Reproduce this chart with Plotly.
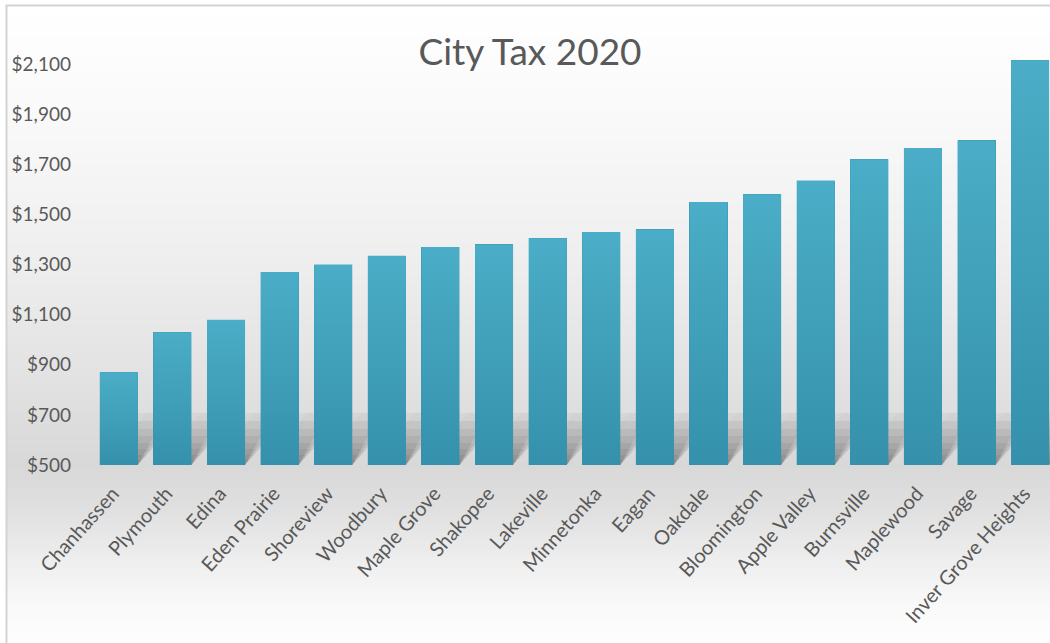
import plotly.graph_objects as go

# ---- data -------------------------------------------------------------
cities = [
    "Chanhassen", "Plymouth", "Edina", "Eden Prairie", "Shoreview",
    "Woodbury", "Maple Grove", "Shakopee", "Lakeville", "Minnetonka",
    "Eagan", "Oakdale", "Bloomington", "Apple Valley", "Burnsville",
    "Maplewood", "Savage", "Inver Grove Heights",
]
city_tax = [870, 1030, 1080, 1270, 1300, 1335, 1370, 1380, 1405, 1430,
            1440, 1550, 1580, 1635, 1720, 1765, 1795, 2115]
y_ticks = [500, 700, 900, 1100, 1300, 1500, 1700, 1900, 2100]
y_tick_labels = [f"${v:,}" for v in y_ticks]
title_text = "City Tax 2020"

# ---- layout constants -------------------------------------------------
W, H = 1050, 643
ML, MR, MT, MB = 92, 0, 39, 178
PW, PH = W - ML - MR, H - MT - MB
Y_MIN, Y_MAX = 500, 2200
X_MIN, X_MAX = -0.5, 17.37
BAR_W = 0.71
HW = BAR_W / 2
TEXT = "#595959"
FONT = "Lato"

px_per_unit = PH / (Y_MAX - Y_MIN)
px_per_cat = PW / (X_MAX - X_MIN)


def px_to_paper_x(px):
    return (px - ML) / PW


def px_to_paper_y(py):
    return (H - MB - py) / PH


# background: white at the top, grey band under the bars, white again below
bg_stops = [(6, 255), (120, 249), (250, 239), (380, 226), (465, 216),
            (510, 224), (560, 238), (610, 250), (643, 254)]


def grey_at(py):
    for (a, ga), (b, gb) in zip(bg_stops, bg_stops[1:]):
        if a <= py <= b:
            t = (py - a) / (b - a)
            return round(ga + (gb - ga) * t)
    return 255


shapes = []
step = 3
py = 6
while py < H:
    g = grey_at(py + step / 2)
    shapes.append(dict(
        type="rect", xref="paper", yref="paper", layer="below",
        x0=px_to_paper_x(7), x1=px_to_paper_x(W + 2),
        y0=px_to_paper_y(py + step + 0.5), y1=px_to_paper_y(py),
        fillcolor=f"rgb({g},{g},{g})", line=dict(width=0),
    ))
    py += step

# outer frame (left and top edges)
shapes.append(dict(type="line", xref="paper", yref="paper", layer="below",
                   x0=px_to_paper_x(6.5), x1=px_to_paper_x(6.5),
                   y0=px_to_paper_y(5), y1=px_to_paper_y(H + 2),
                   line=dict(color="#d3d3d3", width=2)))
shapes.append(dict(type="line", xref="paper", yref="paper", layer="below",
                   x0=px_to_paper_x(5.5), x1=px_to_paper_x(W + 2),
                   y0=px_to_paper_y(5.5), y1=px_to_paper_y(5.5),
                   line=dict(color="#d3d3d3", width=2)))

# soft perspective shadows: skewed copies of each bar foot leaning to the
# upper right, built from many faint layers so they fade upward and blur
shadow_heights_px = [5, 10, 16, 22, 29, 36, 44, 52]
shadow_slopes = [0.55, 0.72, 0.9]
for i in range(len(cities)):
    for h_px in shadow_heights_px:
        h = h_px / px_per_unit
        for s in shadow_slopes:
            dx = s * h_px / px_per_cat
            x0, x1 = i - HW, i + HW
            path = (f"M {x0},{Y_MIN} L {x1},{Y_MIN} "
                    f"L {x1 + dx},{Y_MIN + h} L {x0 + dx},{Y_MIN + h} Z")
            shapes.append(dict(type="path", xref="x", yref="y",
                               layer="below", path=path,
                               fillcolor="rgba(0,0,0,0.014)",
                               line=dict(width=0)))

fig = go.Figure()

idx = list(range(len(cities)))
fig.add_trace(go.Bar(
    x=idx, y=city_tax, width=BAR_W,
    marker=dict(color="#3793ad", line=dict(width=0)),
    hovertext=cities, hoverinfo="text+y", showlegend=False,
))

# gradient face of each bar (lighter at the top, deeper at the foot)
for i, v in zip(idx, city_tax):
    fig.add_trace(go.Scatter(
        x=[i - HW, i + HW, i + HW, i - HW, i - HW],
        y=[Y_MIN, Y_MIN, v, v, Y_MIN],
        mode="none", fill="toself",
        fillgradient=dict(type="vertical", start=Y_MIN, stop=v,
                          colorscale=[[0, "#3591ab"], [1, "#4badc7"]]),
        hoverinfo="skip", showlegend=False,
    ))

fig.update_layout(
    width=W, height=H,
    margin=dict(l=ML, r=MR, t=MT, b=MB, pad=0),
    paper_bgcolor="white",
    plot_bgcolor="rgba(0,0,0,0)",
    shapes=shapes,
    showlegend=False,
    bargap=0,
    font=dict(family=FONT, color=TEXT),
    title=dict(text=title_text, x=530 / W, xanchor="center",
               y=1 - 52 / H, yanchor="middle",
               font=dict(family=FONT, size=37, color=TEXT)),
    xaxis=dict(
        range=[X_MIN, X_MAX], tickmode="array", tickvals=idx,
        ticktext=cities, tickangle=-48, showgrid=False, zeroline=False,
        showline=False, ticks="", ticklabelstandoff=12,
        ticklabelshift=-6,
        tickfont=dict(family=FONT, size=20, color=TEXT),
        fixedrange=True,
    ),
    yaxis=dict(
        range=[Y_MIN, Y_MAX], tickmode="array", tickvals=y_ticks,
        ticktext=y_tick_labels, showgrid=False, zeroline=False,
        showline=False, ticks="", ticklabelstandoff=20,
        tickfont=dict(family=FONT, size=19, color=TEXT),
        fixedrange=True,
    ),
)

fig.write_html("out.html")
